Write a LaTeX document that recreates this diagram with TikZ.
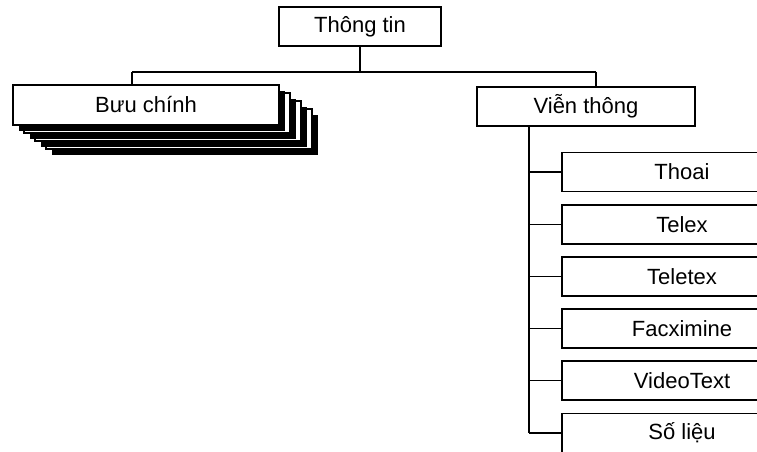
\documentclass[tikz,border=0pt]{standalone}
\usepackage{fontspec}
\setmainfont{Liberation Sans}
\usepackage{tikz}

\tikzset{
  box/.style={draw, line width=1.3pt, fill=white, rectangle, inner sep=0pt,
    minimum height=29.25pt, font=\fontsize{16.5}{18}\selectfont},
  wire/.style={line width=1pt},
}

\begin{document}
\begin{tikzpicture}[x=0.75pt, y=-0.75pt]
\clip (0,0) rectangle (757,452);

% top of the tree
\node[box, minimum width=121.5pt] (thongtin) at (360,26.5) {Thông tin};

% postal branch, stacked copies behind the front box
\foreach \k in {3,2,1,0} {
  \fill[black] (13+11*\k+6,85+8*\k+6) rectangle (279+11*\k+6,125+8*\k+6);
  \draw[line width=1.3pt, fill=white] (13+11*\k,85+8*\k) rectangle (279+11*\k,125+8*\k);
}
\node[box, minimum width=199.5pt, draw=none, fill=none] (buuchinh) at (146,105) {Bưu chính};

% telecom branch
\node[box, minimum width=163.5pt] (vienthong) at (586,106.5) {Viễn thông};

\coordinate (busL) at (132,72);
\coordinate (busR) at (596,72);
\draw[wire] (busL) -- (busR);
\draw[wire] (thongtin.south) -- (thongtin.south |- busL);
\draw[wire] (busL) -- (busL |- buuchinh.north);
\draw[wire] (busR) -- (busR |- vienthong.north);

% services under telecom
\coordinate (trunk) at (529,0);
\foreach \name/\txt [count=\i from 0] in {thoai/Thoai, telex/Telex, teletex/Teletex,
    fax/Facximine, video/VideoText, solieu/Số liệu} {
  \node[box, minimum width=180pt] (\name) at (682,172+52.2*\i) {\txt};
  \draw[wire] (trunk |- \name.west) -- (\name.west);
}
\draw[wire] (trunk |- vienthong.south) -- (trunk |- solieu.west);

\end{tikzpicture}
\end{document}
